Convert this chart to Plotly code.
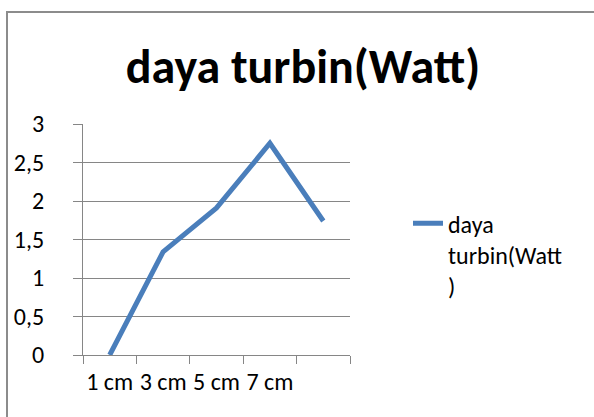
import plotly.graph_objects as go

# ---- data ----
categories = ["1 cm", "3 cm", "5 cm", "7 cm", " "]
daya_turbin = [0.0, 1.34, 1.91, 2.75, 1.74]
series_name = "daya<br>turbin(Watt<br>)"
title_text = "daya turbin(Watt)"
y_tickvals = [0, 0.5, 1, 1.5, 2, 2.5, 3]

W, H = 594, 417
L, R, T, B = 83, 594 - 350, 123.5, 417 - 355.5
FONT = "Carlito, Calibri, Lato, sans-serif"
GRID = "#868686"
BORDER = "#8C8C8C"

fig = go.Figure()
fig.add_trace(go.Scatter(
    x=categories, y=daya_turbin, mode="lines", name=series_name,
    line=dict(color="#4A7EBB", width=5),
))

pw = W - L - R
ph = H - T - B


def px_x(p):
    return (p - L) / pw


def px_y(p):
    return (H - B - p) / ph


# chart-area border: left and top edges (the rest runs off the picture)
fig.add_shape(type="line", xref="paper", yref="paper",
              x0=px_x(7), x1=px_x(7), y0=px_y(H + 2), y1=px_y(10),
              line=dict(color=BORDER, width=2), layer="below")
fig.add_shape(type="line", xref="paper", yref="paper",
              x0=px_x(6), x1=px_x(W + 2), y0=px_y(11), y1=px_y(11),
              line=dict(color=BORDER, width=2), layer="below")

fig.update_layout(
    width=W, height=H,
    margin=dict(l=L, r=R, t=T, b=B, pad=0),
    paper_bgcolor="white", plot_bgcolor="white",
    separators=",.",
    font=dict(family=FONT, size=24, color="black"),
    title=dict(text="<b>" + title_text + "</b>", x=303 / W, xanchor="center",
               xref="container", yref="container", y=1 - 66 / H, yanchor="middle",
               font=dict(family=FONT, size=48, color="black")),
    showlegend=True,
    legend=dict(x=px_x(408), y=px_y(201), xanchor="left", yanchor="top",
                valign="top", font=dict(family=FONT, size=24),
                bgcolor="rgba(0,0,0,0)", borderwidth=0),
    xaxis=dict(type="category", range=[-0.5, 4.5], showgrid=False,
               showline=True, linecolor=GRID, linewidth=1,
               ticks="outside", ticklen=8, tickcolor=GRID, tickwidth=1,
               tickson="boundaries", tickangle=0, tickfont=dict(size=24),
               ticklabelstandoff=5, fixedrange=True, zeroline=False),
    yaxis=dict(range=[0, 3], tickvals=y_tickvals, showgrid=True, gridcolor=GRID,
               gridwidth=1, showline=True, linecolor=GRID, linewidth=1,
               ticks="outside", ticklen=9, tickcolor=GRID, tickwidth=1,
               ticklabelstandoff=24, tickfont=dict(size=24), zeroline=False),
)

fig.write_html("out.html", config={"displayModeBar": False},
               post_script="document.body.style.margin='0';")
